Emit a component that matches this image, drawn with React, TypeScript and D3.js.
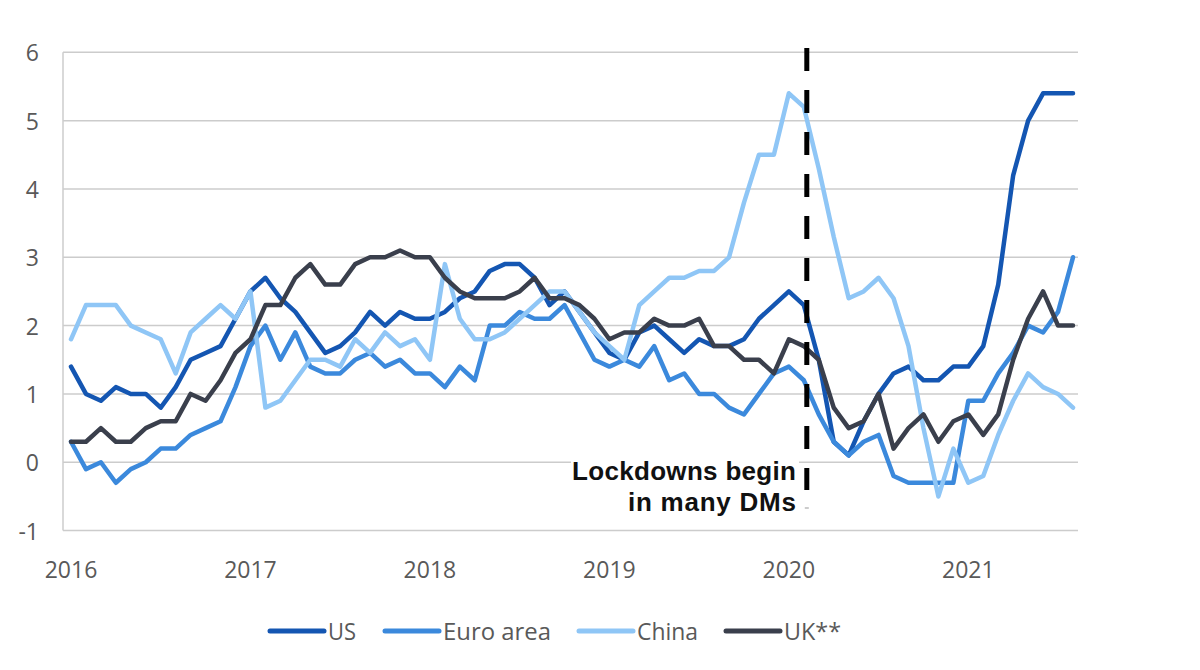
import React from "react";
import * as d3 from "d3";

// Monthly CPI inflation, % y/y, Jan 2016 .. Aug 2021 (68 months)
const us = [
  1.4, 1.0, 0.9, 1.1, 1.0, 1.0, 0.8, 1.1, 1.5, 1.6, 1.7, 2.1,
  2.5, 2.7, 2.4, 2.2, 1.9, 1.6, 1.7, 1.9, 2.2, 2.0, 2.2, 2.1,
  2.1, 2.2, 2.4, 2.5, 2.8, 2.9, 2.9, 2.7, 2.3, 2.5, 2.2, 1.9,
  1.6, 1.5, 1.9, 2.0, 1.8, 1.6, 1.8, 1.7, 1.7, 1.8, 2.1, 2.3,
  2.5, 2.3, 1.5, 0.3, 0.1, 0.6, 1.0, 1.3, 1.4, 1.2, 1.2, 1.4,
  1.4, 1.7, 2.6, 4.2, 5.0, 5.4, 5.4, 5.4,
];
const euroArea = [
  0.3, -0.1, 0.0, -0.3, -0.1, 0.0, 0.2, 0.2, 0.4, 0.5, 0.6, 1.1,
  1.7, 2.0, 1.5, 1.9, 1.4, 1.3, 1.3, 1.5, 1.6, 1.4, 1.5, 1.3,
  1.3, 1.1, 1.4, 1.2, 2.0, 2.0, 2.2, 2.1, 2.1, 2.3, 1.9, 1.5,
  1.4, 1.5, 1.4, 1.7, 1.2, 1.3, 1.0, 1.0, 0.8, 0.7, 1.0, 1.3,
  1.4, 1.2, 0.7, 0.3, 0.1, 0.3, 0.4, -0.2, -0.3, -0.3, -0.3, -0.3,
  0.9, 0.9, 1.3, 1.6, 2.0, 1.9, 2.2, 3.0,
];
const china = [
  1.8, 2.3, 2.3, 2.3, 2.0, 1.9, 1.8, 1.3, 1.9, 2.1, 2.3, 2.1,
  2.5, 0.8, 0.9, 1.2, 1.5, 1.5, 1.4, 1.8, 1.6, 1.9, 1.7, 1.8,
  1.5, 2.9, 2.1, 1.8, 1.8, 1.9, 2.1, 2.3, 2.5, 2.5, 2.2, 1.9,
  1.7, 1.5, 2.3, 2.5, 2.7, 2.7, 2.8, 2.8, 3.0, 3.8, 4.5, 4.5,
  5.4, 5.2, 4.3, 3.3, 2.4, 2.5, 2.7, 2.4, 1.7, 0.5, -0.5, 0.2,
  -0.3, -0.2, 0.4, 0.9, 1.3, 1.1, 1.0, 0.8,
];
const uk = [
  0.3, 0.3, 0.5, 0.3, 0.3, 0.5, 0.6, 0.6, 1.0, 0.9, 1.2, 1.6,
  1.8, 2.3, 2.3, 2.7, 2.9, 2.6, 2.6, 2.9, 3.0, 3.0, 3.1, 3.0,
  3.0, 2.7, 2.5, 2.4, 2.4, 2.4, 2.5, 2.7, 2.4, 2.4, 2.3, 2.1,
  1.8, 1.9, 1.9, 2.1, 2.0, 2.0, 2.1, 1.7, 1.7, 1.5, 1.5, 1.3,
  1.8, 1.7, 1.5, 0.8, 0.5, 0.6, 1.0, 0.2, 0.5, 0.7, 0.3, 0.6,
  0.7, 0.4, 0.7, 1.5, 2.1, 2.5, 2.0, 2.0,
];

const seriesNames = ["US", "Euro area", "China", "UK**"];
const seriesValues = [us, euroArea, china, uk];
const seriesColors = ["#1456b2", "#3b89dc", "#8fc6f6", "#3a3f4c"];

const yearLabels = ["2016", "2017", "2018", "2019", "2020", "2021"];
const yTicks = [-1, 0, 1, 2, 3, 4, 5, 6];

const lockdownMonth = 49.2; // early 2020 (month index from Jan 2016)
const annotationLines = ["Lockdowns begin", "in many DMs"];

const legendX = [270, 385, 579, 726];
const legendTextWidths = [28, 108, 61, 57];

export default function App() {
  const x = d3.scaleLinear().domain([0, 67]).range([71, 1073]);
  const y = d3.scaleLinear().domain([-1, 6]).range([530.6, 52.3]);
  const line = d3
    .line<number>()
    .x((_, i) => x(i))
    .y((d) => y(d));

  const gridLeft = 63;
  const gridRight = 1078;
  const textColor = "#595959";
  const labelFont = "'Open Sans', sans-serif";
  const lx = x(lockdownMonth);

  return (
    <svg
      width={1200}
      height={670}
      style={{ position: "absolute", left: 0, top: 0, background: "#fff" }}
    >
      <rect x={0} y={0} width={1200} height={670} fill="#fff" />
      {/* gridlines */}
      {yTicks.map((t) => (
        <line
          key={t}
          x1={gridLeft}
          x2={gridRight}
          y1={y(t)}
          y2={y(t)}
          stroke="#cccccc"
          strokeWidth={1.5}
        />
      ))}
      <line
        x1={gridLeft}
        x2={gridLeft}
        y1={y(6)}
        y2={y(-1)}
        stroke="#cccccc"
        strokeWidth={1.5}
      />
      {/* y labels */}
      {yTicks.map((t) => (
        <text
          key={t}
          x={39}
          y={y(t)}
          textAnchor="end"
          dominantBaseline="central"
          fontFamily={labelFont}
          fontSize={23}
          fill={textColor}
        >
          {t}
        </text>
      ))}
      {/* x labels */}
      {yearLabels.map((lab, i) => (
        <text
          key={lab}
          x={x(i * 12)}
          y={578}
          textAnchor="middle"
          fontFamily={labelFont}
          fontSize={23}
          fill={textColor}
        >
          {lab}
        </text>
      ))}
      {/* series */}
      {seriesValues.map((vals, k) => (
        <path
          key={seriesNames[k]}
          d={line(vals) || ""}
          fill="none"
          stroke={seriesColors[k]}
          strokeWidth={4.5}
          strokeLinejoin="round"
          strokeLinecap="round"
        />
      ))}
      {/* annotation box */}
      <rect x={571} y={455} width={228} height={62} fill="#fff" />
      <text
        x={796}
        y={480}
        textAnchor="end"
        fontFamily="'Liberation Sans', Arial, sans-serif"
        fontWeight={700}
        fontSize={26}
        fill="#111"
        textLength={224}
        lengthAdjust="spacing"
      >
        {annotationLines[0]}
      </text>
      <text
        x={796}
        y={511}
        textAnchor="end"
        fontFamily="'Liberation Sans', Arial, sans-serif"
        fontWeight={700}
        fontSize={26}
        fill="#111"
        textLength={168}
        lengthAdjust="spacing"
      >
        {annotationLines[1]}
      </text>
      {/* lockdown dashed line */}
      <line
        x1={lx}
        x2={lx}
        y1={48}
        y2={490}
        stroke="#000"
        strokeWidth={5}
        strokeDasharray="23 19"
      />
      <line x1={lx - 2} x2={lx + 2} y1={508} y2={508} stroke="#bbb" strokeWidth={1.5} />
      {/* legend */}
      {seriesNames.map((name, k) => (
        <g key={name}>
          <line
            x1={legendX[k]}
            x2={legendX[k] + 54}
            y1={631}
            y2={631}
            stroke={seriesColors[k]}
            strokeWidth={5}
            strokeLinecap="round"
          />
          <text
            x={legendX[k] + 58}
            y={640}
            fontFamily={labelFont}
            fontSize={24}
            fill={textColor}
            textLength={legendTextWidths[k]}
            lengthAdjust="spacingAndGlyphs"
          >
            {name}
          </text>
        </g>
      ))}
    </svg>
  );
}
